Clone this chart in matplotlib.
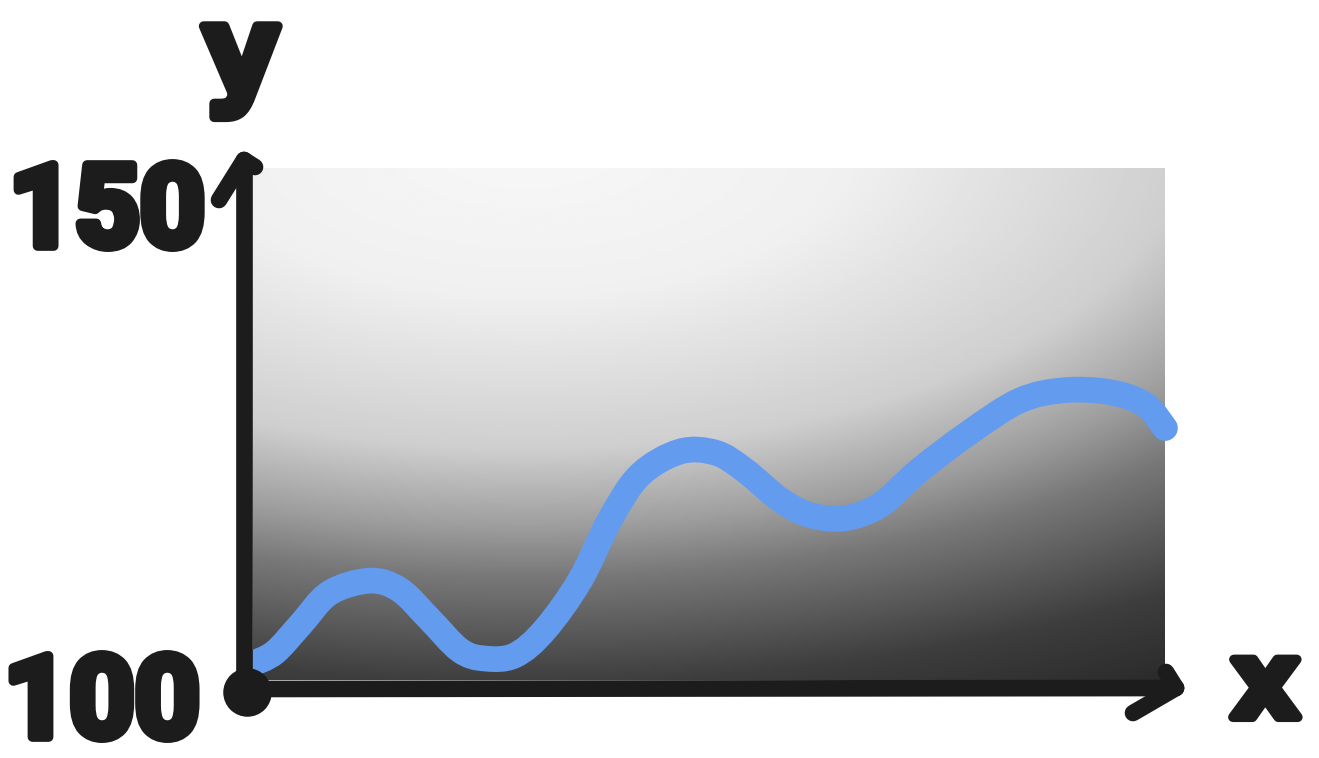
import numpy as np
import matplotlib
matplotlib.use("Agg")
import matplotlib.pyplot as plt
import matplotlib.patheffects as pe
from matplotlib.path import Path
from matplotlib.patches import PathPatch

# data
x_vals = [0.0, 0.24, 0.52, 0.84, 1.28, 1.61, 1.94, 2.27, 2.54, 2.87, 3.20, 3.59, 3.91, 4.24,
          4.68, 5.07, 5.39, 5.78, 6.11, 6.49, 6.88, 7.31, 7.86, 8.41, 8.90, 9.40, 9.78, 10.0]
y_vals = [101.6, 102.7, 105.4, 108.5, 109.7, 108.8, 105.9, 102.9, 102.1, 102.4, 104.9, 109.8, 115.6, 120.0,
          122.3, 122.2, 120.5, 117.6, 116.1, 115.8, 117.1, 120.5, 124.2, 127.3, 128.3, 128.1, 126.9, 124.6]
y_ticks = [100, 150]
tick_labels = ["100", "150"]

W, H = 1319, 758
ink = "#1c1c1c"
blue = "#639bef"

fig = plt.figure(figsize=(W / 100, H / 100), dpi=100)
fig.patch.set_facecolor("white")

# plot area
ax = fig.add_axes([253 / W, (H - 680) / H, 912 / W, 512 / H])
ax.set_xlim(0, 10)
ax.set_ylim(100, 150)
ax.set_xticks([])
ax.set_yticks([])
for s in ax.spines.values():
    s.set_visible(False)

# grey background shading, light near the top, dark toward bottom/right
gx, gy = np.meshgrid(np.linspace(0, 1, 400), np.linspace(0, 1, 300))
d = np.sqrt(((gx - 0.3) / 1.2) ** 2 + ((gy - 1.05) / 1.0) ** 2)
shade = np.interp(d, [0, 0.3, 0.6, 0.75, 0.85, 1.06, 1.2, 2],
                  [0.97, 0.94, 0.81, 0.62, 0.47, 0.24, 0.17, 0.15])
ax.imshow(shade, cmap="gray", vmin=0, vmax=1, origin="lower",
          extent=(0, 10, 100, 150), aspect="auto", zorder=0, interpolation="bilinear")

# smooth curve through the points (bezier segments, catmull-rom handles)
pts = np.column_stack([x_vals, y_vals])
ext = np.vstack([pts[0], pts, pts[-1]])
verts = [tuple(pts[0])]
codes = [Path.MOVETO]
for i in range(1, len(ext) - 2):
    p0, p1, p2, p3 = ext[i - 1], ext[i], ext[i + 1], ext[i + 2]
    verts += [tuple(p1 + (p2 - p0) / 6), tuple(p2 - (p3 - p1) / 6), tuple(p2)]
    codes += [Path.CURVE4] * 3
curve = PathPatch(Path(verts, codes), fill=False, edgecolor=blue, lw=18.5,
                  capstyle="round", joinstyle="round", clip_on=False, zorder=3)
ax.add_patch(curve)

# hand-drawn style text
stroke = [pe.withStroke(linewidth=7, foreground=ink, capstyle="round", joinstyle="round")]
digits_font = dict(family=["Roboto", "DejaVu Sans"], weight="bold",
                   fontsize=82, color=ink, ha="right", va="center")
offsets = {100: (-53, -26), 150: (-48, -47)}
for val, lab in zip(y_ticks, tick_labels):
    ax.annotate(lab, xy=(0, val), xycoords=("axes fraction", "data"),
                xytext=offsets[val], textcoords="offset pixels",
                path_effects=stroke, annotation_clip=False, **digits_font)

letter_font = dict(family=["DejaVu Sans"], weight="bold", color=ink, ha="center", va="center")
ax.text(1.11, -0.016, "x", transform=ax.transAxes, fontsize=76,
        path_effects=stroke, **letter_font)
ax.text(-0.013, 1.212, "y", transform=ax.transAxes, fontsize=86,
        path_effects=stroke, **letter_font)

# axis lines and arrows in pixel space
fr = fig.add_axes([0, 0, 1, 1], zorder=5)
fr.set_xlim(0, W)
fr.set_ylim(H, 0)
fr.axis("off")
fr.patch.set_alpha(0)
lw = 12
kw = dict(color=ink, lw=lw, solid_capstyle="round", solid_joinstyle="round")
fr.plot([244, 244], [160, 690], **kw)
fr.plot([244, 219], [160, 200], **kw)
fr.plot([244, 255], [160, 167], **kw)
fr.plot([240, 1176], [689, 688], **kw)
fr.plot([1176, 1133], [688, 713], **kw)
fr.plot([1176, 1166], [688, 672], **kw)
fr.scatter([247], [692], s=1150, color=ink, zorder=6)

fig.savefig("out.png", dpi=100, facecolor="white")
